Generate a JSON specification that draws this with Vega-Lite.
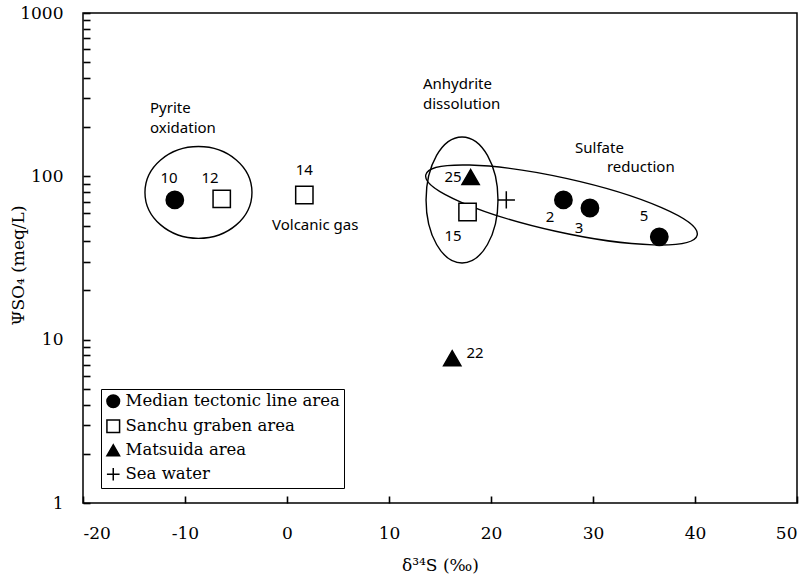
{
  "$schema": "https://vega.github.io/schema/vega-lite/v6.json",
  "width": 714,
  "height": 490,
  "autosize": {"type": "none"},
  "padding": {"left": 83, "top": 13, "right": 10, "bottom": 73},
  "background": "white",
  "config": {
    "view": {"stroke": "black", "strokeWidth": 1.5},
    "axis": {
      "grid": false,
      "domain": false,
      "ticks": true,
      "tickColor": "black",
      "tickWidth": 1.6,
      "tickSize": 7,
      "tickOpacity": 1,
      "offset": -7,
      "labelColor": "black",
      "titleColor": "black",
      "labelFont": "DejaVu Serif",
      "titleFont": "DejaVu Serif",
      "labelFontSize": 17,
      "titleFontSize": 17,
      "titleFontWeight": "normal",
      "labelOverlap": false
    }
  },
  "datasets": {
    "samples": [
      {"id": "10", "group": "Median tectonic line area", "d34S": -11.0, "SO4": 71.7},
      {"id": "2", "group": "Median tectonic line area", "d34S": 27.1, "SO4": 71.7},
      {"id": "3", "group": "Median tectonic line area", "d34S": 29.7, "SO4": 64.0},
      {"id": "5", "group": "Median tectonic line area", "d34S": 36.5, "SO4": 42.6},
      {"id": "12", "group": "Sanchu graben area", "d34S": -6.4, "SO4": 72.7},
      {"id": "14", "group": "Sanchu graben area", "d34S": 1.7, "SO4": 76.9},
      {"id": "15", "group": "Sanchu graben area", "d34S": 17.7, "SO4": 60.5},
      {"id": "25", "group": "Matsuida area", "d34S": 18.0, "SO4": 99.0},
      {"id": "22", "group": "Matsuida area", "d34S": 16.2, "SO4": 7.7},
      {"id": "sw", "group": "Sea water", "d34S": 21.5, "SO4": 71.7}
    ],
    "regions": [
      {"region": "Pyrite oxidation", "d34S": -8.68, "SO4": 79.7},
      {"region": "Anhydrite dissolution", "d34S": 17.16, "SO4": 71.7},
      {"region": "Sulfate reduction", "d34S": 26.91, "SO4": 66.8}
    ],
    "numbers": [
      {"text": "10", "d34S": -11.57, "SO4": 97.8},
      {"text": "12", "d34S": -7.55, "SO4": 97.8},
      {"text": "14", "d34S": 1.7, "SO4": 109.5},
      {"text": "25", "d34S": 16.27, "SO4": 99.0},
      {"text": "15", "d34S": 16.27, "SO4": 43.2},
      {"text": "2", "d34S": 25.78, "SO4": 56.4},
      {"text": "3", "d34S": 28.63, "SO4": 48.3},
      {"text": "5", "d34S": 35.0, "SO4": 57.2},
      {"text": "22", "d34S": 18.43, "SO4": 8.29}
    ],
    "notes": [
      {"text": "Pyrite", "d34S": -13.43, "SO4": 263.0},
      {"text": "oxidation", "d34S": -13.43, "SO4": 197.9},
      {"text": "Volcanic gas", "d34S": -1.47, "SO4": 50.4},
      {"text": "Anhydrite", "d34S": 13.33, "SO4": 369.0},
      {"text": "dissolution", "d34S": 13.33, "SO4": 277.5},
      {"text": "Sulfate", "d34S": 28.24, "SO4": 149.3},
      {"text": "reduction", "d34S": 31.37, "SO4": 114.2}
    ]
  },
  "encoding": {
    "x": {
      "field": "d34S",
      "type": "quantitative",
      "scale": {"domain": [-20, 50], "nice": false, "zero": false},
      "axis": {
        "title": "δ³⁴S (‰)",
        "values": [-20, -10, 0, 10, 20, 30, 40, 50],
        "labelExpr": "'' + datum.value",
        "labelPadding": 22,
        "titleX": 357,
        "titleY": 69,
        "titleBaseline": "middle"
      }
    },
    "y": {
      "field": "SO4",
      "type": "quantitative",
      "scale": {"type": "log", "domain": [1, 1000], "nice": false},
      "axis": {
        "title": "ΨSO₄ (meq/L)",
        "values": [1, 2, 3, 4, 5, 6, 7, 8, 9, 10, 20, 30, 40, 50, 60, 70, 80, 90, 100, 200, 300, 400, 500, 600, 700, 800, 900, 1000],
        "labelExpr": "(datum.value == 1 || datum.value == 10 || datum.value == 100 || datum.value == 1000) ? '' + datum.value : ''",
        "labelPadding": 20,
        "titleX": -72,
        "titleY": 252,
        "titleBaseline": "middle"
      }
    }
  },
  "layer": [
    {
      "data": {"name": "regions"},
      "transform": [{"filter": "datum.region == 'Pyrite oxidation'"}],
      "mark": {
        "type": "point",
        "shape": "M-1,0C-1,-0.474,-0.552,-0.858,0,-0.858C0.552,-0.858,1,-0.474,1,0C1,0.474,0.552,0.858,0,0.858C-0.552,0.858,-1,0.474,-1,0Z",
        "size": 11449,
        "filled": false,
        "stroke": "black",
        "strokeWidth": 1.4,
        "opacity": 1
      }
    },
    {
      "data": {"name": "regions"},
      "transform": [{"filter": "datum.region == 'Anhydrite dissolution'"}],
      "mark": {
        "type": "point",
        "shape": "M-0.571,0C-0.571,-0.552,-0.315,-1,0,-1C0.315,-1,0.571,-0.552,0.571,0C0.571,0.552,0.315,1,0,1C-0.315,1,-0.571,0.552,-0.571,0Z",
        "size": 15876,
        "filled": false,
        "stroke": "black",
        "strokeWidth": 1.4,
        "opacity": 1
      }
    },
    {
      "data": {"name": "regions"},
      "transform": [{"filter": "datum.region == 'Sulfate reduction'"}],
      "mark": {
        "type": "point",
        "shape": "M-1,0C-1,-0.107,-0.552,-0.194,0,-0.194C0.552,-0.194,1,-0.107,1,0C1,0.107,0.552,0.194,0,0.194C-0.552,0.194,-1,0.107,-1,0Z",
        "size": 77284,
        "angle": 12.5,
        "filled": false,
        "stroke": "black",
        "strokeWidth": 1.4,
        "opacity": 1
      }
    },
    {
      "data": {"name": "samples"},
      "mark": {"type": "point", "size": 300, "stroke": "black", "strokeWidth": 1.5, "opacity": 1, "filled": true},
      "encoding": {
        "shape": {
          "field": "group",
          "type": "nominal",
          "scale": {
            "domain": ["Median tectonic line area", "Sanchu graben area", "Matsuida area", "Sea water"],
            "range": ["circle", "square", "triangle-up", "M-1,0L1,0M0,-1L0,1"]
          },
          "legend": {
            "title": null,
            "orient": "none",
            "legendX": 18,
            "legendY": 376,
            "labelFont": "DejaVu Serif",
            "labelFontSize": 16.5,
            "labelColor": "black",
            "labelLimit": 400,
            "symbolSize": 160,
            "rowPadding": 5,
            "labelOffset": 4,
            "padding": 4,
            "strokeColor": "black",
            "fillColor": "white",
            "encode": {
              "symbols": {
                "update": {
                  "stroke": {"value": "black"},
                  "strokeWidth": {"value": 1.5},
                  "opacity": {"value": 1}
                }
              }
            }
          }
        },
        "fill": {
          "field": "group",
          "type": "nominal",
          "scale": {
            "domain": ["Median tectonic line area", "Sanchu graben area", "Matsuida area", "Sea water"],
            "range": ["black", "white", "black", "black"]
          },
          "legend": {
            "title": null,
            "orient": "none",
            "legendX": 18,
            "legendY": 376,
            "labelFont": "DejaVu Serif",
            "labelFontSize": 16.5,
            "labelColor": "black",
            "labelLimit": 400,
            "symbolSize": 160,
            "rowPadding": 5,
            "labelOffset": 4,
            "padding": 4,
            "strokeColor": "black",
            "fillColor": "white",
            "encode": {
              "symbols": {
                "update": {
                  "stroke": {"value": "black"},
                  "strokeWidth": {"value": 1.5},
                  "opacity": {"value": 1}
                }
              }
            }
          }
        }
      }
    },
    {
      "data": {"name": "numbers"},
      "mark": {"type": "text", "font": "Noto Sans", "fontSize": 15, "color": "black", "align": "center", "baseline": "middle"},
      "encoding": {"text": {"field": "text"}}
    },
    {
      "data": {"name": "notes"},
      "mark": {"type": "text", "font": "Noto Sans", "fontSize": 15, "color": "black", "align": "left", "baseline": "middle"},
      "encoding": {"text": {"field": "text"}}
    }
  ]
}
